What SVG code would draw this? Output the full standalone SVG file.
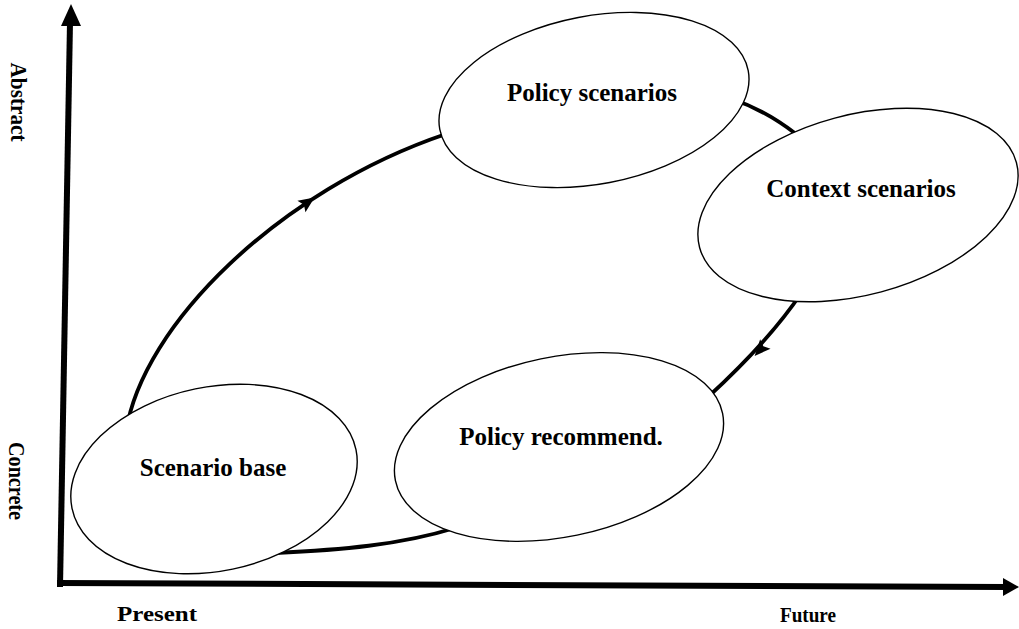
<svg xmlns="http://www.w3.org/2000/svg" width="1019" height="629" viewBox="0 0 1019 629">
<style>
  .node { fill: #ffffff; stroke: #000000; stroke-width: 1.4; }
  .label { font-family: "Liberation Serif", "Times New Roman", serif; font-weight: bold; font-size: 25px; fill: #000000; text-anchor: middle; }
  .axislabel { font-family: "Liberation Serif", "Times New Roman", serif; font-weight: bold; font-size: 20px; fill: #000000; text-anchor: middle; }
  .vlabel { font-family: "Liberation Serif", "Times New Roman", serif; font-weight: bold; font-size: 23px; fill: #000000; text-anchor: middle; }
  .flow { fill: none; stroke: #000000; stroke-width: 3.8; stroke-linecap: round; }
  .axis { fill: none; stroke: #000000; stroke-width: 6; }
  .head { fill: #000000; stroke: none; }
</style>
<defs>
  <path id="ah" d="M8,0 L-8,-7 L-5,0 L-8,7 Z"/>
</defs>
<rect x="0" y="0" width="1019" height="629" fill="#ffffff"/>

<g id="axes">
  <path class="axis" d="M60,587 L70,22"/>
  <polygon class="head" points="71,4 61,26 81,26"/>
  <path class="axis" d="M57,583 L1006,587"/>
  <polygon class="head" points="1019,587 1003,578 1003,596"/>
  <text class="vlabel" transform="translate(11,102) rotate(90)" textLength="79" lengthAdjust="spacingAndGlyphs">Abstract</text>
  <text class="vlabel" transform="translate(9,481) rotate(90)" textLength="78" lengthAdjust="spacingAndGlyphs">Concrete</text>
  <text class="axislabel" x="157" y="621" textLength="80" lengthAdjust="spacingAndGlyphs">Present</text>
  <text class="axislabel" x="808" y="622" textLength="56" lengthAdjust="spacingAndGlyphs">Future</text>
</g>

<g id="connectors">
  <path class="flow" d="M126,432 C142,325 280,190 446,134"/>
  <path class="flow" d="M732,99 Q765,110 796,134"/>
  <path class="flow" d="M802,292 Q770,340 708,397"/>
  <path class="flow" d="M455,528 C400,545 340,550 275,553"/>
  <use href="#ah" class="head" transform="translate(308,202) rotate(-35)"/>
  <use href="#ah" class="head" transform="translate(760,350) rotate(132)"/>
</g>

<g id="node-scenario-base">
  <ellipse class="node" cx="214" cy="479" rx="145" ry="92" transform="rotate(-11.7 214 479)"/>
  <text class="label" x="213" y="476">Scenario base</text>
</g>

<g id="node-policy-scenarios">
  <ellipse class="node" cx="594" cy="100" rx="157" ry="84" transform="rotate(-10.8 594 100)"/>
  <text class="label" x="592" y="101">Policy scenarios</text>
</g>

<g id="node-context-scenarios">
  <ellipse class="node" cx="858" cy="205" rx="164" ry="90" transform="rotate(-15 858 205)"/>
  <text class="label" x="861" y="197">Context scenarios</text>
</g>

<g id="node-policy-recommend">
  <ellipse class="node" cx="559" cy="447" rx="167" ry="90" transform="rotate(-11.6 559 447)"/>
  <text class="label" x="561" y="445">Policy recommend.</text>
</g>
</svg>
